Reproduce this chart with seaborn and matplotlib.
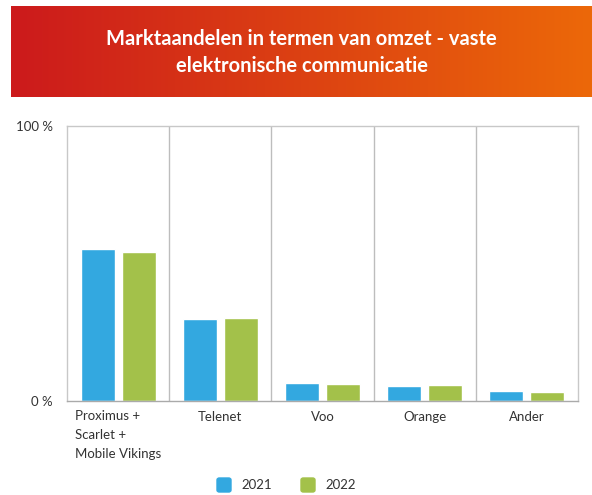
import numpy as np
import pandas as pd
import matplotlib.pyplot as plt
import seaborn as sns
from matplotlib.colors import LinearSegmentedColormap
from matplotlib.patches import FancyBboxPatch
from matplotlib.transforms import blended_transform_factory

# data
operators = ['Proximus +\nScarlet +\nMobile Vikings', 'Telenet', 'Voo', 'Orange', 'Ander']
years = ['2021', '2022']
share_2021 = [55.2, 29.7, 6.4, 5.3, 3.5]
share_2022 = [54.2, 30.2, 6.3, 5.8, 3.4]
colors = ['#33A8E0', '#A3C14A']
title = 'Marktaandelen in termen van omzet - vaste\nelektronische communicatie'

df = pd.DataFrame({
    'operator': operators * 2,
    'year': [years[0]] * 5 + [years[1]] * 5,
    'share': share_2021 + share_2022,
})

sns.set_theme(style='white')
plt.rcParams['font.family'] = ['Lato', 'DejaVu Sans']

W, H = 592, 495
fig = plt.figure(figsize=(W / 100, H / 100), dpi=100)

# gradient title banner
bx = fig.add_axes([11 / W, 1 - 97 / H, (W - 11) / W, 91 / H])
grad = LinearSegmentedColormap.from_list('banner', ['#CC1A1C', '#EC6809'])
bx.imshow(np.linspace(0, 1, 256)[None, :], aspect='auto', cmap=grad, extent=[0, 1, 0, 1])
bx.set_axis_off()
bx.text(0.5, 0.49, title, ha='center', va='center', color='white',
        fontsize=14.5, fontweight='bold', linespacing=1.45, transform=bx.transAxes)

# main chart
ax = fig.add_axes([67 / W, 1 - 401 / H, (578 - 67) / W, (401 - 126) / H])
sns.barplot(data=df, x='operator', y='share', hue='year', palette=colors,
            width=0.8, gap=0.17, saturation=1, ax=ax, legend=False)

ax.set_ylim(0, 100)
ax.set_xlim(-0.5, len(operators) - 0.5)
ax.set_yticks([0, 100])
ax.set_yticklabels(['0 %', '100 %'])
ax.set_xlabel('')
ax.set_ylabel('')
ax.set_xticks(range(len(operators)))
# the long first label is left aligned under its first bar, drawn by hand
ax.set_xticklabels([''] + operators[1:])
trans = blended_transform_factory(ax.transData, ax.transAxes)
ax.text(-0.42, -9 / 275, operators[0], transform=trans, ha='left', va='top',
        fontsize=9.5, color='#333333', linespacing=1.7)

# category separators
ax.set_xticks(np.arange(0.5, len(operators) - 1), minor=True)
ax.grid(which='minor', axis='x', color='#BDBDBD', linewidth=1)
ax.grid(which='major', visible=False)
ax.tick_params(axis='both', which='both', length=0, labelsize=9.5, colors='#333333')
ax.tick_params(axis='x', pad=7)
ax.tick_params(axis='y', pad=10)
for s in ax.spines.values():
    s.set_visible(True)
    s.set_color('#C8C8C8')
    s.set_linewidth(1)
ax.spines['bottom'].set_color('#AAAAAA')

# legend
for i, (yr, c) in enumerate(zip(years, colors)):
    x0 = 217 + i * 84
    fig.patches.append(FancyBboxPatch((x0 / W, 1 - 492 / H), 14 / W, 14 / H,
                                      boxstyle='round,pad=0,rounding_size=0.004',
                                      transform=fig.transFigure, color=c))
    fig.text((x0 + 24) / W, 1 - 485 / H, yr, va='center', ha='left',
             fontsize=9.5, color='#333333')

fig.savefig('out.png', dpi=100)
